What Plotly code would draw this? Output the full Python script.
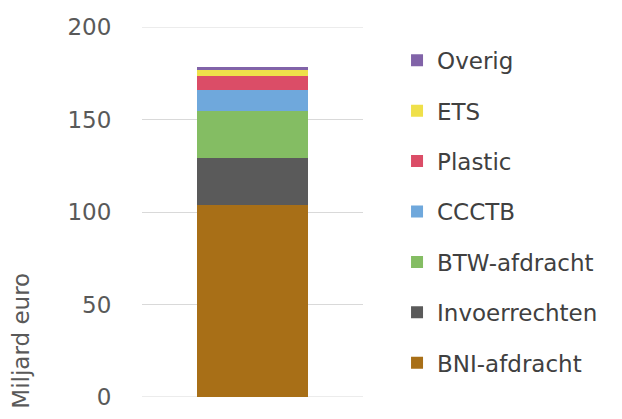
import plotly.graph_objects as go

categories = [""]
series_names = ["BNI-afdracht", "Invoerrechten", "BTW-afdracht", "CCCTB", "Plastic", "ETS", "Overig"]
series_values = [103.9, 25.3, 25.2, 11.7, 7.2, 3.3, 1.8]
series_colors = ["#A86F17", "#5A5A5A", "#84BD63", "#6FA8DC", "#DB4D67", "#EFE04A", "#8163A8"]
tick_vals = [0, 50, 100, 150, 200]
y_title = "Miljard euro"

fig = go.Figure()
n = len(series_names)
for i, (name, val, col) in enumerate(zip(series_names, series_values, series_colors)):
    fig.add_trace(go.Bar(
        x=categories, y=[val], name=name, legendgroup=name,
        legendrank=n - i,
        marker=dict(color=col, line=dict(width=0)),
    ))

grid_color = "#D9D9D9"
for v in (tick_vals[0], tick_vals[-1]):
    fig.add_hline(y=v, line=dict(color=grid_color, width=1), layer="below")

font_family = "DejaVu Sans"
fig.update_layout(
    barmode="stack",
    bargap=0.5,
    width=614, height=411,
    margin=dict(l=134, r=259, t=19, b=22, autoexpand=False),
    paper_bgcolor="white", plot_bgcolor="white",
    font=dict(family=font_family, color="#595959"),
    showlegend=True,
    legend=dict(
        traceorder="grouped",
        x=1.154, y=0.968, xanchor="left", yanchor="top",
        font=dict(size=23, color="#404040", family=font_family),
        tracegroupgap=17.5,
        itemwidth=30,
        bgcolor="rgba(0,0,0,0)",
    ),
    xaxis=dict(showticklabels=False, showgrid=False, zeroline=False, showline=False,
               automargin=False),
    yaxis=dict(
        range=[0, 200], tickvals=tick_vals,
        showgrid=True, gridcolor=grid_color, gridwidth=1,
        zeroline=False, showline=False, automargin=False,
        ticks="outside", ticklen=25, tickcolor="rgba(0,0,0,0)",
        tickfont=dict(size=23, color="#595959", family=font_family),
    ),
    annotations=[dict(
        text=y_title, xref="paper", yref="paper",
        x=-0.548, y=0.152, xanchor="center", yanchor="middle",
        textangle=-90, showarrow=False,
        font=dict(size=23, color="#595959", family=font_family),
    )],
)

fig.write_html("out.html")
